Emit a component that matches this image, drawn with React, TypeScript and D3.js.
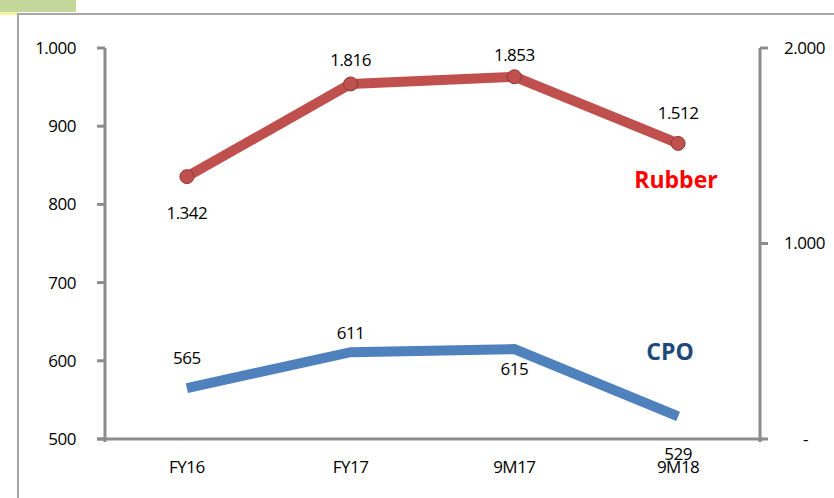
import * as d3 from "d3";

const categories = ["FY16", "FY17", "9M17", "9M18"];
const rubber = [1342, 1816, 1853, 1512];
const cpo = [565, 611, 615, 529];
const leftTicks = [500, 600, 700, 800, 900, 1000];
const rightTicks = [0, 1000, 2000];

// label offsets (px) relative to the data point, as placed in the reference
const rubberLabelDy = [36, -24, -22, -30];
const cpoLabelDy = [-30, -19, 20, 38];

const fmt = (v: number) => (v === 0 ? "-" : d3.format(",")(v).replace(/,/g, "."));

export default function App() {
  const W = 834, H = 498;
  const x0 = 105, x1 = 760, yTop = 48, yBot = 439;
  const x = d3.scaleBand().domain(categories).range([x0, x1]);
  const cx = (c: string) => (x(c) || 0) + x.bandwidth() / 2;
  const yL = d3.scaleLinear().domain([500, 1000]).range([yBot, yTop]);
  const yR = d3.scaleLinear().domain([0, 2000]).range([yBot, yTop]);

  const line = d3.line<[number, number]>().x(d => d[0]).y(d => d[1]);
  const rPts: [number, number][] = categories.map((c, i) => [cx(c), yR(rubber[i])]);
  const cPts: [number, number][] = categories.map((c, i) => [cx(c), yL(cpo[i])]);
  const axisCol = "#8c8c8c";
  const font = "'Open Sans', 'DejaVu Sans', sans-serif";
  const fs = 17;

  return (
    <svg width={W} height={H} style={{ position: "absolute", left: 0, top: 0 }} fontFamily={font}>
      <rect x={0} y={0} width={76} height={12} fill="#c4d79b" />
      <rect x={0} y={12} width={18} height={3} fill="#f4f49c" />
      <path d={`M18,${H} V14 H${W}`} fill="none" stroke="#a6a6a6" strokeWidth={2} />

      {/* axes */}
      <line x1={x0} x2={x0} y1={yTop} y2={yBot + 3} stroke={axisCol} strokeWidth={3} />
      <line x1={x1} x2={x1} y1={yTop} y2={yBot + 3} stroke={axisCol} strokeWidth={3} />
      <line x1={x0 - 8} x2={x1 + 3} y1={yBot} y2={yBot} stroke={axisCol} strokeWidth={3} />
      {leftTicks.map(t => (
        <g key={t}>
          <line x1={x0 - 8} x2={x0} y1={yL(t)} y2={yL(t)} stroke={axisCol} strokeWidth={3} />
          <text x={76} y={yL(t)} dy="0.35em" textAnchor="end" fontSize={fs} letterSpacing={-0.5}>{fmt(t)}</text>
        </g>
      ))}
      {rightTicks.map(t => (
        <g key={t}>
          <line x1={x1} x2={x1 + 8} y1={yR(t)} y2={yR(t)} stroke={axisCol} strokeWidth={3} />
          <text x={t === 0 ? 803 : 784} y={yR(t)} dy="0.35em" textAnchor="start" fontSize={fs} letterSpacing={-0.5}>{fmt(t)}</text>
        </g>
      ))}
      {categories.map(c => (
        <text key={c} x={cx(c)} y={467} dy="0.35em" textAnchor="middle" fontSize={fs} letterSpacing={-0.5}>{c}</text>
      ))}

      {/* CPO */}
      <path d={line(cPts) || ""} fill="none" stroke="#4f81bd" strokeWidth={10} strokeLinejoin="miter" />
      {cPts.map((p, i) => (
        <text key={i} x={p[0]} y={p[1] + cpoLabelDy[i]} dy="0.35em" textAnchor="middle" fontSize={fs} letterSpacing={-0.5}>{fmt(cpo[i])}</text>
      ))}

      {/* Rubber */}
      <path d={line(rPts) || ""} fill="none" stroke="#c0504d" strokeWidth={10} strokeLinejoin="round" />
      {rPts.map((p, i) => (
        <circle key={i} cx={p[0]} cy={p[1]} r={7} fill="#c0504d" stroke="#8c3836" strokeWidth={1} />
      ))}
      {rPts.map((p, i) => (
        <text key={i} x={p[0]} y={p[1] + rubberLabelDy[i]} dy="0.35em" textAnchor="middle" fontSize={fs} letterSpacing={-0.5}>{fmt(rubber[i])}</text>
      ))}

      <text x={676} y={180} dy="0.35em" textAnchor="middle" fontSize={23} fontWeight="bold" fill="#ff0000">Rubber</text>
      <text x={670} y={352} dy="0.35em" textAnchor="middle" fontSize={23} fontWeight="bold" fill="#1f497d">CPO</text>
    </svg>
  );
}
